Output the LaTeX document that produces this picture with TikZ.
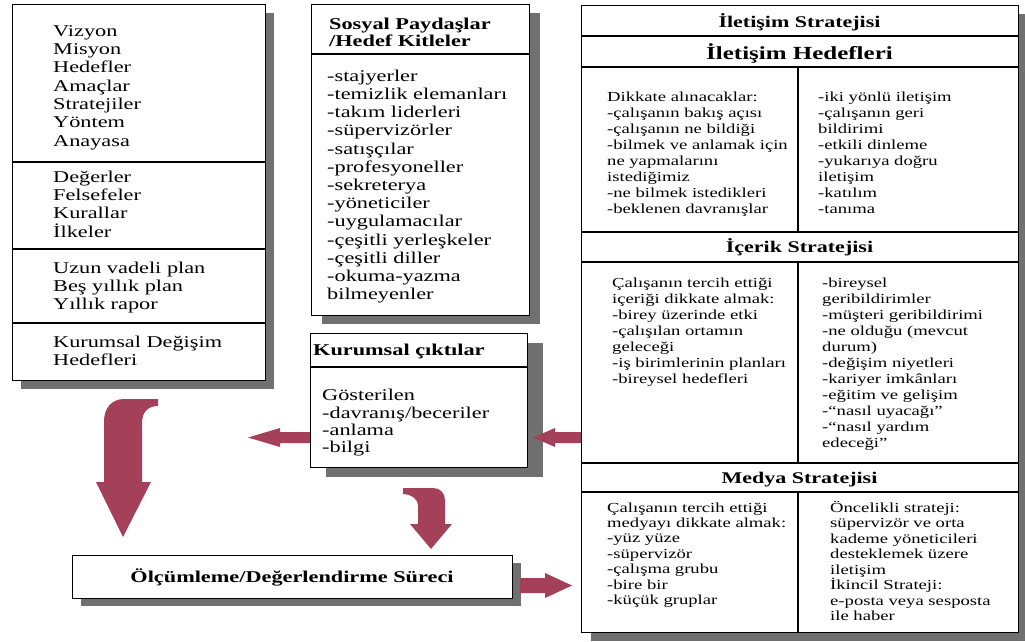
\documentclass[tikz,border=0pt]{standalone}
\usepackage{fontspec}
\setmainfont[FakeStretch=1.35]{Liberation Serif}
\usetikzlibrary{shadows}
\definecolor{arrowc}{RGB}{165,64,90}
\definecolor{shadowc}{RGB}{112,112,112}
\newcommand\fl{\rule{0pt}{0.9em}}
\begin{document}
\begin{tikzpicture}[x=1pt,y=-1pt,
  box/.style={draw=black, line width=1.4pt, fill=white, inner sep=0pt, anchor=north west},
  shd/.style 2 args={drop shadow={shadow xshift=#1, shadow yshift=#2, fill=shadowc, opacity=1}},
  divline/.style={draw=black, line width=1.1pt},
  txt/.style={anchor=north west, inner sep=0pt, align=left},
  bigtxt/.style={txt, font=\fontsize{16.5}{18.3}\selectfont},
  smalltxt/.style={txt, font=\fontsize{13.8}{16}\selectfont},
  head/.style={anchor=base, inner sep=0pt, font=\bfseries\fontsize{16.3}{18}\selectfont},
  blockarrow/.style={fill=arrowc, draw=none}
]
\useasboundingbox (0,0) rectangle (1025,641);

% ---------- left box ----------
\node[box, shd={8pt}{-8pt}, minimum width=253pt, minimum height=376pt] (L) at (12,4) {};
\draw[divline] (L.west |- 0,162) -- (L.east |- 0,162);
\draw[divline] (L.west |- 0,249) -- (L.east |- 0,249);
\draw[divline] (L.west |- 0,323) -- (L.east |- 0,323);
\node[bigtxt] (l1) at (53,21.15) {\fl Vizyon\\Misyon\\Hedefler\\Amaçlar\\Stratejiler\\Yöntem\\Anayasa};
\node[bigtxt] (l2) at (53,167.15) {\fl Değerler\\Felsefeler\\Kurallar\\İlkeler};
\node[bigtxt] (l3) at (53,258.15) {\fl Uzun vadeli plan\\Beş yıllık plan\\Yıllık rapor};
\node[bigtxt] (l4) at (53,332.15) {\fl Kurumsal Değişim\\Hedefleri};

% ---------- middle top box ----------
\node[box, shd={10pt}{-8pt}, minimum width=218pt, minimum height=311pt] (M) at (311,4) {};
\draw[divline] (M.west |- 0,54) -- (M.east |- 0,54);
\node[bigtxt, font=\bfseries\fontsize{16.5}{17.7}\selectfont] (mt) at (329,14.15) {\fl Sosyal Paydaşlar\\/Hedef Kitleler};
\node[bigtxt, font=\fontsize{16.5}{18.2}\selectfont] (mb) at (327,66.15) {\fl -stajyerler\\-temizlik elemanları\\-takım liderleri\\-süpervizörler\\-satışçılar\\-profesyoneller\\-sekreterya\\-yöneticiler\\-uygulamacılar\\-çeşitli yerleşkeler\\-çeşitli diller\\-okuma-yazma\\bilmeyenler};

% ---------- Kurumsal ciktilar ----------
\node[box, shd={15pt}{-9pt}, minimum width=217pt, minimum height=134pt] (K) at (310,333) {};
\draw[divline] (K.west |- 0,367) -- (K.east |- 0,367);
\node[bigtxt, font=\bfseries\fontsize{16.5}{18}\selectfont] (kt) at (313,340.15) {\fl Kurumsal çıktılar};
\node[bigtxt, font=\fontsize{16.5}{17.2}\selectfont] (kb) at (322,385.85) {\fl Gösterilen\\-davranış/beceriler\\-anlama\\-bilgi};

% ---------- Olcumleme ----------
\node[box, shd={8pt}{-7pt}, minimum width=440pt, minimum height=43pt] (O) at (72,555) {};
\node[anchor=base, inner sep=0pt, font=\bfseries\fontsize{16.5}{18}\selectfont] (ot) at (292,582) {Ölçümleme/Değerlendirme Süreci};

% ---------- right box ----------
\node[box, shd={9pt}{-8pt}, minimum width=437pt, minimum height=627pt] (R) at (581,5) {};
\foreach \yy in {36,67,232,262,463,492}
  \draw[divline] (R.west |- 0,\yy) -- (R.east |- 0,\yy);
\draw[divline] (798,67) -- (798,232);
\draw[divline] (798,262) -- (798,463);
\draw[divline] (798,492) -- (R.south -| 798,0);

\node[head] (h1) at (799.5,27.3) {İletişim Stratejisi};
\node[head, font=\bfseries\fontsize{18.5}{20}\selectfont] (h2) at (799.5,59) {İletişim Hedefleri};
\node[head] (h3) at (799.5,252.5) {İçerik Stratejisi};
\node[head] (h4) at (799.5,483.5) {Medya Stratejisi};

\node[smalltxt] (r1a) at (607,89.3) {\fl Dikkate alınacaklar:\\-çalışanın bakış açısı\\-çalışanın ne bildiği\\-bilmek ve anlamak için\\ne yapmalarını\\istediğimiz\\-ne bilmek istedikleri\\-beklenen davranışlar};
\node[smalltxt] (r1b) at (818,89.3) {\fl -iki yönlü iletişim\\-çalışanın geri\\bildirimi\\-etkili dinleme\\-yukarıya doğru\\iletişim\\-katılım\\-tanıma};

\node[smalltxt, font=\fontsize{13.8}{15.9}\selectfont] (r2a) at (612,275) {\fl Çalışanın tercih ettiği\\içeriği dikkate almak:\\-birey üzerinde etki\\-çalışılan ortamın\\geleceği\\-iş birimlerinin planları\\-bireysel hedefleri};
\node[smalltxt] (r2b) at (822,274.5) {\fl -bireysel\\geribildirimler\\-müşteri geribildirimi\\-ne olduğu (mevcut\\durum)\\-değişim niyetleri\\-kariyer imkânları\\-eğitim ve gelişim\\-“nasıl uyacağı”\\-“nasıl yardım\\edeceği”};

\node[smalltxt, font=\fontsize{13.8}{15.4}\selectfont] (r3a) at (607,499.5) {\fl Çalışanın tercih ettiği\\medyayı dikkate almak:\\-yüz yüze\\-süpervizör\\-çalışma grubu\\-bire bir\\-küçük gruplar};
\node[smalltxt, font=\fontsize{13.8}{15.5}\selectfont] (r3b) at (830,499.5) {\fl Öncelikli strateji:\\süpervizör ve orta\\kademe yöneticileri\\desteklemek üzere\\iletişim\\İkincil Strateji:\\e-posta veya sesposta\\ile haber};

% ---------- block arrows ----------
% big curved arrow (left box -> Olcumleme)
\fill[blockarrow] (158,399) -- (124,399) .. controls (112,399) and (104,408) .. (104,421)
  -- (104,482) -- (96,482) -- (123,537) -- (151,482) -- (142,482) -- (142,423)
  .. controls (142,412) and (148,406) .. (158,406) -- cycle;
% small curved arrow (Kurumsal -> Olcumleme)
\fill[blockarrow] (403,488) -- (433,488) .. controls (440,488) and (445,493) .. (445,500)
  -- (445,524) -- (452,524) -- (431,549) -- (410,524) -- (418,524) -- (418,506)
  .. controls (418,498) and (410,494) .. (403,494) -- cycle;
% Kurumsal -> left
\fill[blockarrow] (310,432) -- (280,432) -- (280,428) -- (248,437.5) -- (280,447) -- (280,443) -- (310,443) -- cycle;
% right box -> Kurumsal
\fill[blockarrow] (581,432) -- (555,432) -- (555,428) -- (533,437.5) -- (555,447) -- (555,443) -- (581,443) -- cycle;
% Olcumleme -> right box
\fill[blockarrow] (520,578) -- (545,578) -- (545,573) -- (572,585.5) -- (545,598) -- (545,593) -- (520,593) -- cycle;
\end{tikzpicture}
\end{document}
